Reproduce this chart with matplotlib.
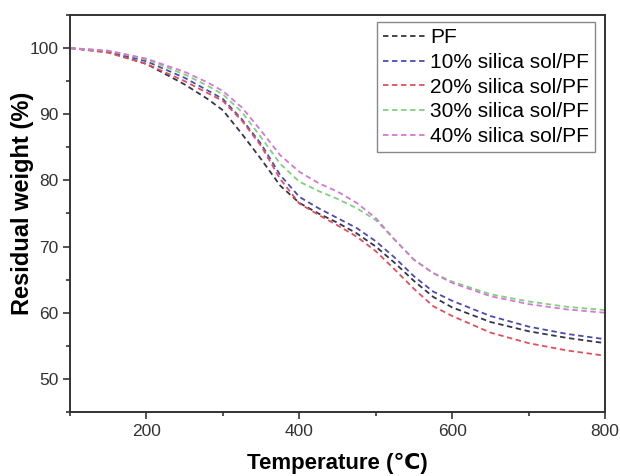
import matplotlib
matplotlib.use("Agg")
import matplotlib.pyplot as plt
from matplotlib.ticker import MultipleLocator

plt.rcParams['font.family'] = ['Liberation Sans', 'DejaVu Sans']

temps = [100, 150, 200, 250, 280, 300, 325, 350, 375, 400, 425, 450, 475, 500,
         525, 550, 575, 600, 650, 700, 750, 800]
pf = [100, 99.4, 97.6, 94.5, 92.3, 90.6, 87.0, 83.2, 79.2, 76.6, 75.0, 73.6, 72.0, 70.0,
      67.5, 64.8, 62.4, 60.8, 58.6, 57.2, 56.2, 55.4]
s10 = [100, 99.5, 98.0, 95.5, 93.6, 92.3, 89.2, 85.5, 80.8, 77.5, 75.8, 74.3, 72.8, 70.8,
       68.3, 65.5, 63.2, 61.8, 59.5, 57.9, 56.8, 56.0]
s20 = [100, 99.3, 97.6, 95.0, 93.2, 92.0, 89.0, 85.2, 80.2, 76.5, 74.8, 73.2, 71.5, 69.3,
       66.5, 63.6, 61.0, 59.5, 57.0, 55.4, 54.3, 53.5]
s30 = [100, 99.6, 98.3, 96.0, 94.3, 93.0, 90.3, 86.5, 82.5, 79.8, 78.4, 77.2, 75.8, 74.0,
       71.0, 68.0, 66.0, 64.7, 62.8, 61.7, 60.9, 60.4]
s40 = [100, 99.6, 98.4, 96.4, 94.8, 93.5, 91.0, 87.5, 83.8, 81.3, 79.6, 78.3, 76.6, 74.3,
       71.0, 68.0, 66.0, 64.5, 62.5, 61.3, 60.5, 60.0]

labels = ['PF', '10% silica sol/PF', '20% silica sol/PF', '30% silica sol/PF', '40% silica sol/PF']
series = [pf, s10, s20, s30, s40]
colors = ['#34344e', '#4b4bb2', '#e0505a', '#80d080', '#d478d4']

fig = plt.figure(figsize=(6.2, 4.76), dpi=100)
ax = fig.add_axes([0.113, 0.1345, 0.863, 0.834])

for y, lab, c in zip(series, labels, colors):
    ax.plot(temps, y, linestyle=(0, (3, 2)), color=c, lw=1.3, label=lab)

ax.set_xlim(100, 800)
ax.set_ylim(45, 105)
ax.xaxis.set_major_locator(MultipleLocator(200))
ax.xaxis.set_minor_locator(MultipleLocator(100))
ax.yaxis.set_major_locator(MultipleLocator(10))
ax.yaxis.set_minor_locator(MultipleLocator(5))
ax.set_yticks([50, 60, 70, 80, 90, 100])
ax.tick_params(which='both', direction='out', top=False, right=False, labelsize=12.5,
               colors='#333333', width=1.2)
ax.tick_params(which='major', length=5)
ax.tick_params(which='minor', length=3)
for s in ax.spines.values():
    s.set_linewidth(1.4)
    s.set_color('#333333')

ax.set_xlabel('Temperature (℃)', fontsize=16, fontweight='bold', labelpad=10)
ax.set_ylabel('Residual weight (%)', fontsize=17, fontweight='bold')
ax.yaxis.set_label_coords(-0.068, 0.526)

leg = ax.legend(loc='upper right', fontsize=15, handlelength=2.0, handletextpad=0.25,
                labelspacing=0.27, borderpad=0.3, borderaxespad=0, fancybox=False,
                framealpha=1, bbox_to_anchor=(0.981, 0.982))
leg.get_frame().set_edgecolor('#888888')
leg.get_frame().set_linewidth(1.0)

fig.savefig('out.png', dpi=100)
